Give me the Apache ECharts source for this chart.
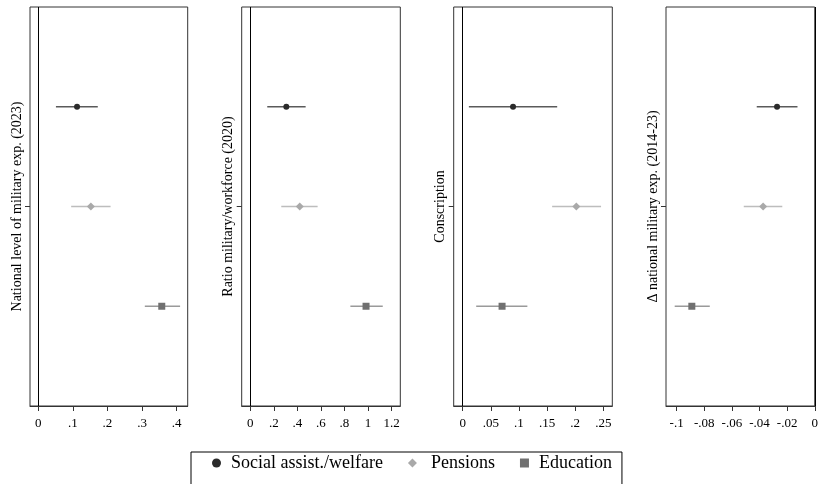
<!DOCTYPE html>
<html>
<head>
<meta charset="utf-8">
<script src="https://cdn.jsdelivr.net/npm/echarts@6/dist/echarts.min.js"></script>
<style>html,body{margin:0;padding:0;background:#fff}#c{width:821px;height:484px}</style>
</head>
<body>
<div id="c"></div>
<script>
// ---- data ----
const seriesNames = ['Social assist./welfare', 'Pensions', 'Education'];
const panelTitles = ['National level of military exp. (2023)', 'Ratio military/workforce (2020)', 'Conscription', 'Δ national military exp. (2014-23)'];
// [estimate, lower CI, upper CI] per series per panel
const panel1 = [[0.112, 0.051, 0.172], [0.152, 0.095, 0.209], [0.357, 0.308, 0.410]];
const panel2 = [[0.306, 0.144, 0.470], [0.420, 0.263, 0.572], [0.983, 0.850, 1.125]];
const panel3 = [[0.0895, 0.011, 0.168], [0.202, 0.159, 0.246], [0.070, 0.024, 0.115]];
const panel4 = [[-0.0273, -0.042, -0.0125], [-0.0374, -0.0514, -0.0235], [-0.089, -0.1014, -0.076]];
const ticks1 = [0, 0.1, 0.2, 0.3, 0.4];
const ticks2 = [0, 0.2, 0.4, 0.6, 0.8, 1, 1.2];
const ticks3 = [0, 0.05, 0.1, 0.15, 0.2, 0.25];
const ticks4 = [-0.1, -0.08, -0.06, -0.04, -0.02, 0];
const xRanges = [[-0.024, 0.432], [-0.073, 1.274], [-0.016, 0.266], [-0.1077, 0]];

const panels = [panel1, panel2, panel3, panel4];
const ticks = [ticks1, ticks2, ticks3, ticks4];
const gridPos = [[30, 157.7], [241.7, 158.6], [453.7, 158.6], [666, 150]];
const markerColors = ['#2b2b2b', '#a9a9a9', '#707070'];
const ciColors = ['#5a5a5a', '#bdbdbd', '#9a9a9a'];
const symbols = ['circle', 'diamond', 'rect'];
const symbolSizes = [6, 8, 7];
const legendTextPad = [[0, 2, 0, 5], [0, 0, 0, 9], [0, 0, 0, 5]];
const FONT = 'Liberation Serif, Times New Roman, serif';

function fmt(v) {
  let s = String(Math.round(v * 1000) / 1000);
  s = s.replace(/^0\./, '.').replace(/^-0\./, '-.');
  return s;
}

const grid = [], xAxis = [], yAxis = [], series = [];
panels.forEach((p, i) => {
  grid.push({left: gridPos[i][0], width: gridPos[i][1], top: 7, height: 399,
    show: true, borderColor: '#333', borderWidth: 1, backgroundColor: 'transparent'});
  xAxis.push({type: 'value', gridIndex: i, min: xRanges[i][0], max: xRanges[i][1],
    axisLine: {show: true, onZero: false, lineStyle: {color: '#333'}},
    axisTick: {show: true, length: 5, lineStyle: {color: '#333'}, customValues: ticks[i]},
    axisLabel: {customValues: ticks[i], formatter: fmt, color: '#000', fontFamily: FONT, fontSize: 13, margin: 11},
    splitLine: {show: false}});
  yAxis.push({type: 'value', gridIndex: i, min: 0, max: 4, inverse: true, position: 'left',
    name: panelTitles[i], nameLocation: 'middle', nameGap: 6, nameRotate: 90,
    nameTextStyle: {color: '#000', fontFamily: FONT, fontSize: 14},
    axisLine: {show: false, onZero: false},
    axisTick: {show: true, length: 5, lineStyle: {color: '#333'}, customValues: [2]},
    axisLabel: {show: false}, splitLine: {show: false}});
  // CI lines
  series.push({type: 'custom', xAxisIndex: i, yAxisIndex: i, silent: true,
    data: p.map((d, k) => [d[1], d[2], k + 1, k]),
    encode: {x: [0, 1], y: 2},
    renderItem: function (params, api) {
      const a = api.coord([api.value(0), api.value(2)]);
      const b = api.coord([api.value(1), api.value(2)]);
      return {type: 'line', shape: {x1: a[0], y1: a[1], x2: b[0], y2: b[1]},
        style: {stroke: ciColors[api.value(3)], lineWidth: 1.5}};
    },
    markLine: {silent: true, symbol: 'none', label: {show: false},
      lineStyle: {color: '#000', width: 1, type: 'solid'}, data: [{xAxis: 0}], animation: false},
    z: 2});
  // markers
  p.forEach((d, k) => {
    series.push({type: 'scatter', name: seriesNames[k], xAxisIndex: i, yAxisIndex: i,
      symbol: symbols[k], symbolSize: symbolSizes[k],
      itemStyle: {color: markerColors[k], opacity: 1},
      data: [[d[0], k + 1]], z: 3});
  });
});

const chart = echarts.init(document.getElementById('c'), null, {renderer: 'canvas'});
chart.setOption({
  animation: false,
  backgroundColor: '#fff',
  grid, xAxis, yAxis, series,
  legend: {
    data: seriesNames.map((n, k) => ({name: n, icon: symbols[k], itemStyle: {color: markerColors[k]},
      textStyle: {padding: legendTextPad[k]}})),
    left: 191, top: 452,
    itemWidth: 9, itemHeight: 9, itemGap: 25,
    padding: [2, 10, 16, 21],
    borderColor: '#000', borderWidth: 1,
    selectedMode: false,
    textStyle: {color: '#000', fontFamily: FONT, fontSize: 18}
  }
});
</script>
</body>
</html>
